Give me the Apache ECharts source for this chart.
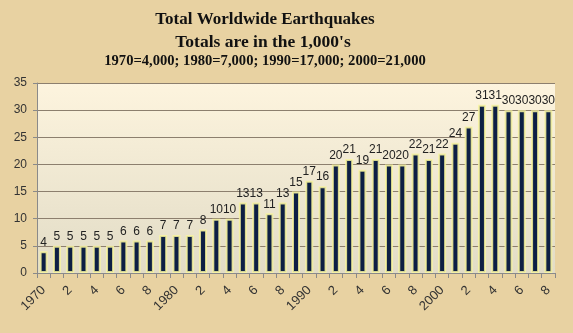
<!DOCTYPE html>
<html>
<head>
<meta charset="utf-8">
<script src="https://cdn.jsdelivr.net/npm/echarts@6/dist/echarts.min.js"></script>
<style>
html,body{margin:0;padding:0;background:#e8d2a2;}
#c{width:573px;height:333px;}
</style>
</head>
<body>
<div id="c"></div>
<script>
const years = ['1970','1971','1972','1973','1974','1975','1976','1977','1978','1979',
  '1980','1981','1982','1983','1984','1985','1986','1987','1988','1989',
  '1990','1991','1992','1993','1994','1995','1996','1997','1998','1999',
  '2000','2001','2002','2003','2004','2005','2006','2007','2008'];
const quakes = [4,5,5,5,5,5,6,6,6,7,
  7,7,8,10,10,13,13,11,13,15,
  17,16,20,21,19,21,20,20,22,21,
  22,24,27,31,31,30,30,30,30];
const tickLabels = ['1970','','2','','4','','6','','8','',
  '1980','','2','','4','','6','','8','',
  '1990','','2','','4','','6','','8','',
  '2000','','2','','4','','6','','8'];
const yTicks = [0,5,10,15,20,25,30,35];

const chart = echarts.init(document.getElementById('c'));
chart.setOption({
  backgroundColor: '#e8d2a2',
  animation: false,
  title: [
    {text: 'Total Worldwide Earthquakes', left: 260, top: 6,
     textStyle: {fontFamily: 'Liberation Serif', fontWeight: 'bold', fontSize: 17, color: '#111'}, textAlign: 'center'},
    {text: "Totals are in the 1,000's", left: 258, top: 28,
     textStyle: {fontFamily: 'Liberation Serif', fontWeight: 'bold', fontSize: 17.5, color: '#111'}, textAlign: 'center'},
    {text: '1970=4,000; 1980=7,000; 1990=17,000; 2000=21,000', left: 260, top: 49,
     textStyle: {fontFamily: 'Liberation Serif', fontWeight: 'bold', fontSize: 14.6, color: '#111'}, textAlign: 'center'}
  ],
  grid: {left: 37, right: 18, top: 83, bottom: 60,
    show: true, borderWidth: 0,
    backgroundColor: {type: 'linear', x: 0, y: 0, x2: 0, y2: 1,
      colorStops: [{offset: 0, color: '#fdf4de'}, {offset: 1, color: '#e2dcc6'}]}},
  xAxis: {
    type: 'category', data: years,
    axisLine: {lineStyle: {color: '#8a8a8a'}},
    axisTick: {show: true, length: 5, lineStyle: {color: '#8a8a8a'}},
    axisLabel: {interval: 0, rotate: 45, fontFamily: 'Liberation Sans', fontSize: 13, color: '#333', margin: 15,
      formatter: (v, i) => tickLabels[i]}
  },
  yAxis: {
    type: 'value', min: yTicks[0], max: yTicks[yTicks.length - 1], interval: 5,
    axisLine: {show: true, lineStyle: {color: '#8a8a8a'}},
    axisTick: {show: true, length: 4, lineStyle: {color: '#8a8a8a'}},
    splitLine: {lineStyle: {color: '#8c7f6e', width: 1}},
    axisLabel: {fontFamily: 'Liberation Sans', fontSize: 12, color: '#333', margin: 10}
  },
  series: [{
    type: 'bar', data: quakes, barWidth: 8,
    itemStyle: {color: '#0d1f44', borderColor: 'rgba(248,245,160,0.85)', borderWidth: 2},
    label: {show: true, position: 'top', distance: 3, fontFamily: 'Liberation Sans', fontSize: 12, color: '#222'}
  }]
});
</script>
</body>
</html>
